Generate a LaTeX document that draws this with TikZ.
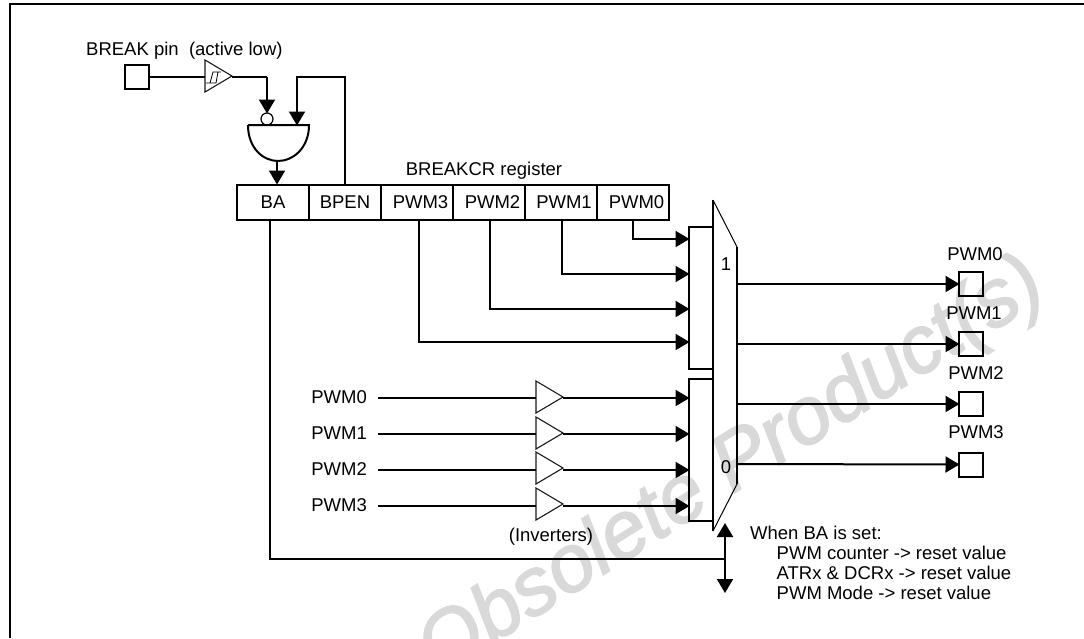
\documentclass[tikz,border=0pt]{standalone}
\usepackage{fontspec}
\setmainfont{Liberation Sans}
\newfontface\wmfont[FakeBold=2]{Liberation Sans Italic}
\usetikzlibrary{arrows.meta,shapes.geometric}
\definecolor{wmark}{gray}{0.85}
\tikzset{
  wire/.style={line width=2pt},
  arr/.style={line width=2pt,-{Triangle[length=14pt,width=16pt]},shorten >=-0.5pt},
  darr/.style={line width=2pt,{Triangle[length=14pt,width=16pt]}-{Triangle[length=14pt,width=16pt]}},
  lbl/.style={inner sep=0pt,font=\fontsize{18.5}{20}\selectfont},
  cell/.style={draw,line width=2pt,minimum width=72pt,minimum height=35pt,inner sep=0pt,outer sep=0pt,font=\fontsize{18.5}{20}\selectfont},
  pad/.style={draw,line width=2pt,minimum width=24pt,minimum height=24pt,inner sep=0pt,outer sep=0pt},
  busbox/.style={draw,line width=2pt,minimum width=24pt,minimum height=142pt,inner sep=0pt,outer sep=0pt},
  buf/.style={draw,line width=1.1pt,color=black!90,shape=isosceles triangle,isosceles triangle stretches,shape border rotate=0,minimum width=32pt,minimum height=27pt,inner sep=0pt,outer sep=0pt,anchor=lower side},
  bubble/.style={draw,circle,line width=1.2pt,minimum size=12pt,inner sep=0pt,outer sep=0pt}
}
\begin{document}
\begin{tikzpicture}[x=1pt,y=-1pt]
\useasboundingbox (0,0) rectangle (1084,638);
% watermark
\node[wmark,inner sep=0pt,anchor=base west,rotate=32,font=\fontsize{81}{81}\wmfont] (wm) at (438,678) {Obsolete Product(s)};
% frame
\coordinate (fa) at (10,638);
\coordinate (fb) at (10,4);
\coordinate (fc) at (1084,4);
\draw[wire] (fa) -- (fb) -- (fc);
% labels
\node[lbl,anchor=base west] (brk) at (86,55) {BREAK pin\ \ (active low)};
\node[lbl] (regl) at (484,171) {BREAKCR register};
% pin + schmitt
\node[pad] (pin) at (137,77) {};
\node[buf] (st) at (205,76) {};
\coordinate (s1) at (206,83); \coordinate (s2) at (216,83); \coordinate (s3) at (218,72); \coordinate (s4) at (221,72);
\coordinate (s5) at (210,83); \coordinate (s6) at (213,72);
\draw[line width=0.8pt] (s1) -- (s2) -- (s3) -- (s4) (s5) -- (s6) -- (s3);
% gate
\coordinate (gl) at (248,125);
\coordinate (gr) at (309,125);
\coordinate (gb) at (278,161);
\draw[wire] (gl) -- (gr) .. controls (309,148) and (293,161) .. (gb) .. controls (263,161) and (248,148) .. (gl);
\node[bubble] (bub) at (267,119) {};
% register
\node[cell] (ba) at (273,202.5) {BA};
\node[cell] (bpen) at (345,202.5) {BPEN};
\node[cell] (c3) at (417,202.5) {\hspace{7pt}PWM3};
\node[cell] (c2) at (489,202.5) {\hspace{7pt}PWM2};
\node[cell] (c1) at (561,202.5) {\hspace{6pt}PWM1};
\node[cell] (c0) at (633,202.5) {\hspace{7pt}PWM0};
% bus boxes and mux
\node[busbox] (m1) at (701,298) {};
\node[busbox] (m0) at (701,450) {};
\coordinate (ma) at (713,200);
\coordinate (mb) at (737,247);
\coordinate (mc) at (737,484);
\coordinate (md) at (713,531);
\draw[line width=1pt] (ma) -- (mb) (mc) -- (md);
\draw[wire] (mb) -- (mc) (ma) -- (md);
\node[lbl] (one) at (726,264) {1};
\node[lbl] (zero) at (726,467) {0};
% top wires
\coordinate (t1) at (267,77);
\coordinate (t2) at (297,77);
\coordinate (t3) at (345,77);
\coordinate (t4) at (297,125);
\draw[wire] (pin.east) -- (st.lower side |- pin.east);
\draw[wire] (st.apex |- t1) -- (t1);
\draw[arr] (t1) -- (bub.north);
\draw[arr] (bpen.north) -- (t3) -- (t2) -- (t4);
\coordinate (gs) at (277,161);
\coordinate (ge) at (277,184);
\draw[arr] (gs) -- (ge);
% register outputs
\coordinate (r0a) at (633,220); \coordinate (r0b) at (633,239);
\coordinate (r1a) at (561.5,220); \coordinate (r1b) at (561.5,274);
\coordinate (r2a) at (490,220); \coordinate (r2b) at (490,309);
\coordinate (r3a) at (419,220); \coordinate (r3b) at (419,342);
\draw[arr] (r0a) -- (r0b) -- (m1.west |- r0b);
\draw[arr] (r1a) -- (r1b) -- (m1.west |- r1b);
\draw[arr] (r2a) -- (r2b) -- (m1.west |- r2b);
\draw[arr] (r3a) -- (r3b) -- (m1.west |- r3b);
% inverter inputs
\node[lbl,anchor=east] (i0) at (367,397) {PWM0};
\node[lbl,anchor=east] (i1) at (367,433) {PWM1};
\node[lbl,anchor=east] (i2) at (367,469) {PWM2};
\node[lbl,anchor=east] (i3) at (367,505) {PWM3};
\node[buf] (b0) at (536,397) {};
\node[buf] (b1) at (536,433) {};
\node[buf] (b2) at (536,468) {};
\node[buf] (b3) at (536,504) {};
\coordinate (w0) at (378,398); \coordinate (w1) at (378,434); \coordinate (w2) at (378,470); \coordinate (w3) at (378,506);
\draw[wire] (w0) -- (b0.lower side |- w0);
\draw[wire] (w1) -- (b1.lower side |- w1);
\draw[wire] (w2) -- (b2.lower side |- w2);
\draw[wire] (w3) -- (b3.lower side |- w3);
\draw[arr] (b0.apex |- w0) -- (m0.west |- w0);
\draw[arr] (b1.apex |- w1) -- (m0.west |- w1);
\draw[arr] (b2.apex |- w2) -- (m0.west |- w2);
\draw[arr] (b3.apex |- w3) -- (m0.west |- w3);
\node[lbl] (inv) at (551,537) {(Inverters)};
% outputs
\node[pad] (p0) at (971,284) {};
\node[pad] (p1) at (971,344) {};
\node[pad] (p2) at (971,404) {};
\node[pad] (p3) at (971,464.5) {};
\node[lbl] (l0) at (975,254) {PWM0};
\node[lbl] (l1) at (974,313) {PWM1};
\node[lbl] (l2) at (976,373) {PWM2};
\node[lbl] (l3) at (976,432) {PWM3};
\coordinate (x0) at (737,284); \coordinate (x1) at (737,344); \coordinate (x2) at (737,404); \coordinate (x3) at (737,464);
\draw[arr] (x0) -- (p0.west);
\draw[arr] (x1) -- (p1.west);
\draw[arr] (x2) -- (p2.west);
\draw[arr] (x3) -- (p3.west);
% BA line
\coordinate (bj) at (270,220);
\coordinate (bk) at (270,559);
\coordinate (bl) at (725,559);
\coordinate (bt) at (725,523);
\coordinate (bu) at (725,593);
\draw[wire] (bj) -- (bk) -- (bl);
\draw[darr] (bt) -- (bu);
% note
\node[lbl,anchor=base west] (n0) at (750,539) {When BA is set:};
\node[lbl,anchor=base west] (n1) at (776.5,559) {PWM counter -> reset value};
\node[lbl,anchor=base west] (n2) at (776.5,579) {ATRx \& DCRx -> reset value};
\node[lbl,anchor=base west] (n3) at (776.5,599) {PWM Mode -> reset value};
\end{tikzpicture}
\end{document}
